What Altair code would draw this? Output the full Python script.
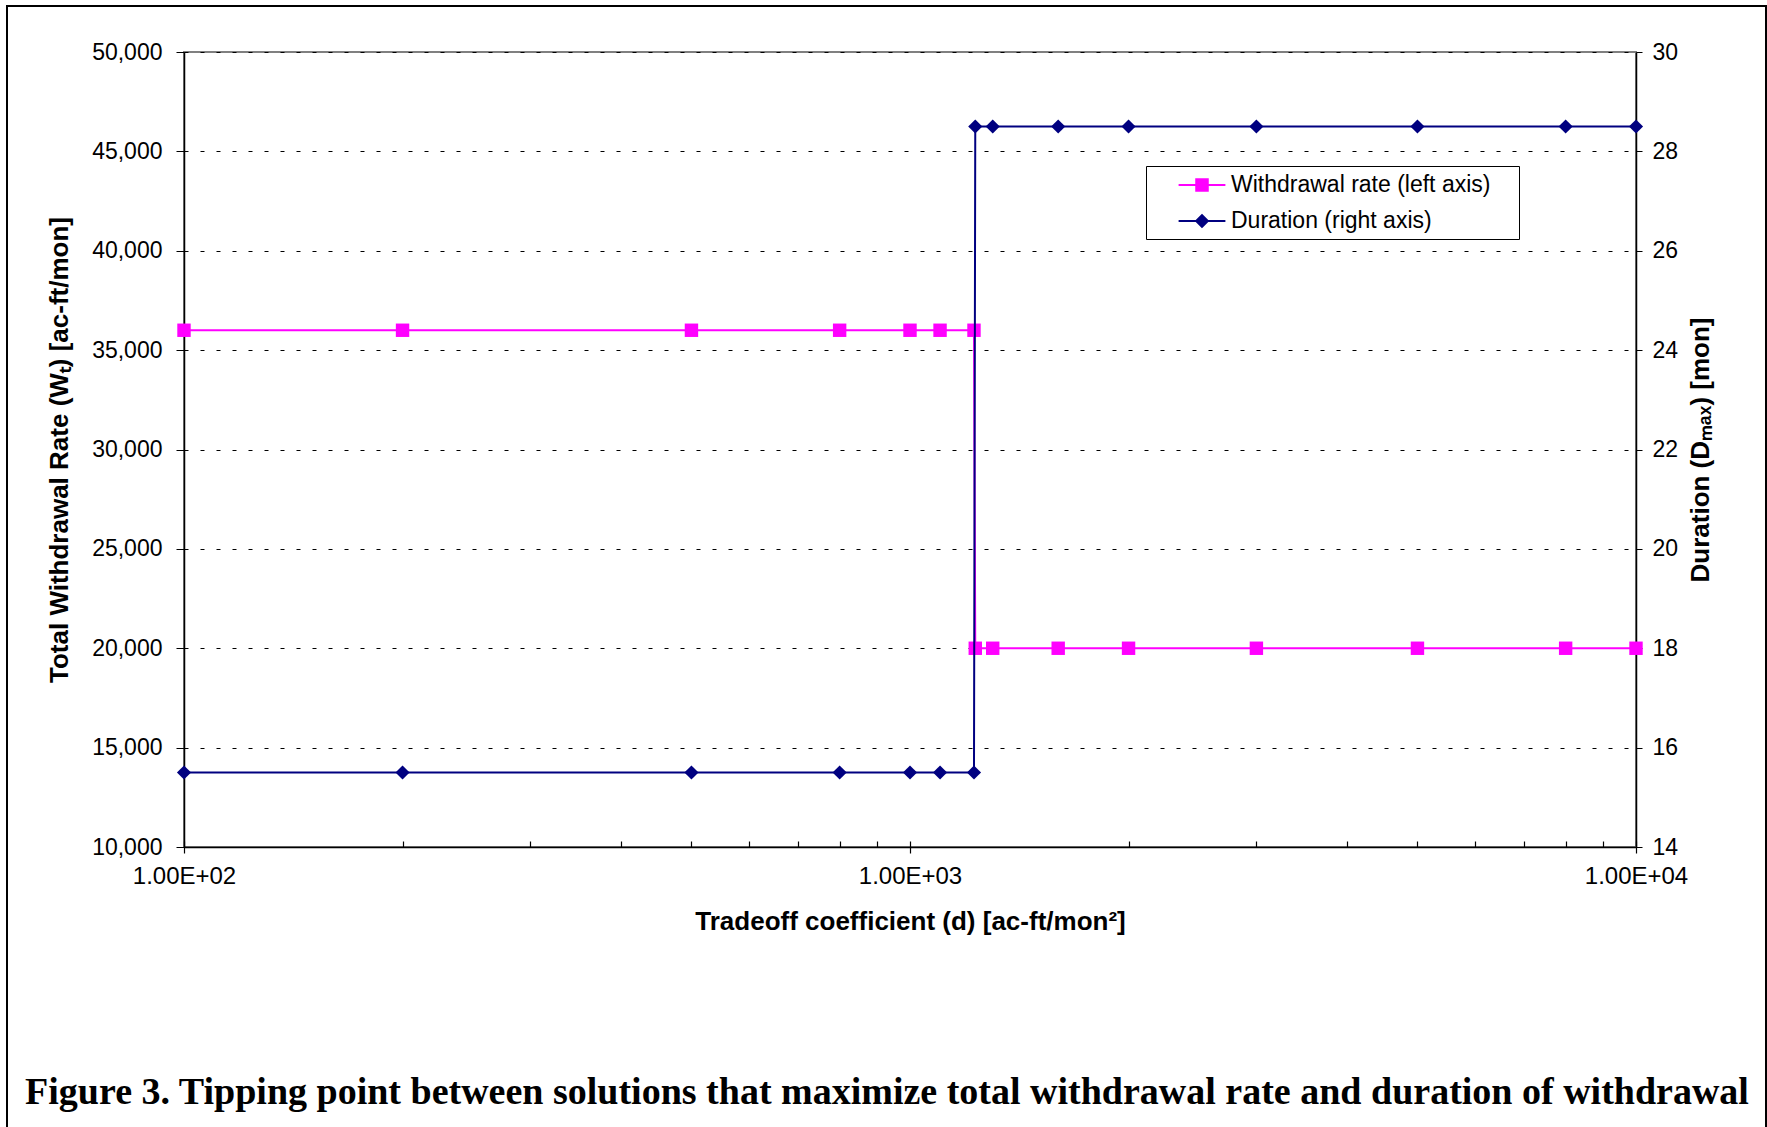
import altair as alt
import pandas as pd

# ---- data ----
d_values = [100, 200, 500, 800, 1000, 1100, 1225, 1230, 1300, 1600, 2000, 3000, 5000, 8000, 10000]
withdrawal = [36000, 36000, 36000, 36000, 36000, 36000, 36000, 20000, 20000, 20000, 20000, 20000, 20000, 20000, 20000]
duration = [15.5, 15.5, 15.5, 15.5, 15.5, 15.5, 15.5, 28.5, 28.5, 28.5, 28.5, 28.5, 28.5, 28.5, 28.5]

series_names = ["Withdrawal rate (left axis)", "Duration (right axis)"]
series_colors = ["#FF00FF", "#000080"]

x_major_ticks = [100, 1000, 10000]
x_major_labels = ["1.00E+02", "1.00E+03", "1.00E+04"]
x_minor_ticks = [100, 200, 300, 400, 500, 600, 700, 800, 900, 1000,
                 2000, 3000, 4000, 5000, 6000, 7000, 8000, 9000, 10000]
left_ticks = [10000, 15000, 20000, 25000, 30000, 35000, 40000, 45000, 50000]
right_ticks = [14, 16, 18, 20, 22, 24, 26, 28, 30]

caption = "Figure 3. Tipping point between solutions that maximize total withdrawal rate and duration of withdrawal"

W, H = 1452, 795
PAD = {"left": 184, "top": 52, "right": 1767 - 184 - W, "bottom": 1127 - 52 - H}
FONT = "Liberation Sans"

df = pd.DataFrame({"d": d_values, "w": withdrawal, "dur": duration})
legend_df = pd.DataFrame({"series": series_names, "d": [1000, 1000], "w": [30000, 30000]})
frame_df = pd.DataFrame({"k": [0]})

label_expr = " : ".join(
    [f"datum.value == {v} ? '{l}'" for v, l in zip(x_major_ticks, x_major_labels)]
) + " : ''"

x_scale = alt.Scale(type="log", domain=[100, 10000], nice=False)

x_major = alt.X("d:Q", scale=x_scale, axis=alt.Axis(
    values=x_major_ticks, labelExpr=label_expr, tickSize=6, labelPadding=11,
    labelFlush=False, labelOverlap=False,
    labelFont=FONT, labelFontSize=24, labelColor="black", tickColor="black",
    domainColor="black", domainWidth=1.5, tickWidth=1.2, grid=False,
    title="Tradeoff coefficient (d) [ac-ft/mon²]", titleFont=FONT, titleFontSize=26,
    titleFontWeight="bold", titleColor="black", titlePadding=20))

x_minor = alt.X("d:Q", scale=x_scale, axis=alt.Axis(
    orient="bottom", offset=-6, values=x_minor_ticks, labels=False, domain=False,
    tickSize=6, tickColor="black", tickWidth=1.2, grid=False, title=None))

y_left = alt.Y("w:Q", scale=alt.Scale(domain=[10000, 50000], nice=False, zero=False), axis=alt.Axis(
    orient="left", values=left_ticks, format=",d", tickSize=8, labelPadding=14,
    labelFont=FONT, labelFontSize=23, labelColor="black", tickColor="black",
    domainColor="black", domainWidth=1.5, grid=True, gridDash=[4, 12],
    gridColor="black", gridWidth=1,
    title="Total Withdrawal Rate (Wₜ) [ac-ft/mon]", titleFont=FONT, titleFontSize=26,
    titleFontWeight="bold", titleColor="black", titlePadding=19))

y_right = alt.Y("dur:Q", scale=alt.Scale(domain=[14, 30], nice=False, zero=False), axis=alt.Axis(
    orient="right", values=right_ticks, format="d", tickSize=6, labelPadding=10,
    labelFont=FONT, labelFontSize=23, labelColor="black", tickColor="black",
    domainColor="black", domainWidth=1.5, grid=False,
    title="Duration (Dₘₐₓ) [mon]", titleFont=FONT, titleFontSize=26, titleAngle=270,
    titleBaseline="top",
    titleFontWeight="bold", titleColor="black", titlePadding=10))

base = alt.Chart(df)

pink_line = base.mark_line(color="#FF00FF", strokeWidth=2).encode(x=x_major, y=y_left)
pink_pts = base.mark_point(shape="square", filled=True, size=180, color="#FF00FF",
                           opacity=1).encode(x=x_major, y=y_left)

# legend symbols: line segment + marker, as custom paths
sq_path = "M-1.8,-0.08H1.8V0.08H-1.8Z M-0.52,-0.52H0.52V0.52H-0.52Z"
dm_path = "M-1.8,-0.08H1.8V0.08H-1.8Z M0,-0.56L0.56,0L0,0.56L-0.56,0Z"

leg = alt.Legend(orient="none", legendX=962, legendY=114, title=".",
                 titleOrient="right", titleColor="white", titleFontSize=8, titlePadding=20,
                 strokeColor="black", fillColor="white", padding=6,
                 symbolOffset=37, labelOffset=16, rowPadding=11, symbolSize=676,
                 symbolStrokeWidth=0, symbolOpacity=1,
                 labelFont=FONT, labelFontSize=23, labelColor="black", labelLimit=600)

legend_layer = alt.Chart(legend_df).mark_point(filled=True, opacity=1).encode(
    x=alt.X("d:Q", scale=x_scale),
    y=alt.Y("w:Q"),
    color=alt.Color("series:N", scale=alt.Scale(domain=series_names, range=series_colors), legend=leg),
    shape=alt.Shape("series:N", scale=alt.Scale(domain=series_names, range=[sq_path, dm_path]), legend=leg),
).transform_filter("false")

frame = alt.Chart(frame_df).mark_rect(fillOpacity=0, stroke="black", strokeWidth=2).encode(
    x=alt.value(-177), x2=alt.value(1766 - 184), y=alt.value(-46), y2=alt.value(1140 - 52))

left = alt.layer(frame, pink_line, pink_pts, legend_layer)

blue_line = base.mark_line(color="#000080", strokeWidth=2).encode(x=x_minor, y=y_right)
blue_pts = base.mark_point(shape="diamond", filled=True, size=200, color="#000080",
                           opacity=1).encode(x=x_minor, y=y_right)
right = alt.layer(blue_line, blue_pts)

chart = alt.layer(left, right).resolve_scale(y="independent").resolve_axis(x="independent").properties(
    width=W, height=H, padding=PAD, autosize=alt.AutoSizeParams(type="none"),
    background="white",
    title=alt.TitleParams(text=caption, orient="bottom", anchor="middle", font="Liberation Serif",
                          fontSize=38, fontWeight="bold", color="black", offset=-67, dx=-23),
).configure_view(stroke="#808080", strokeWidth=2)

chart.save("out.html", embed_options={"renderer": "svg", "actions": False})
